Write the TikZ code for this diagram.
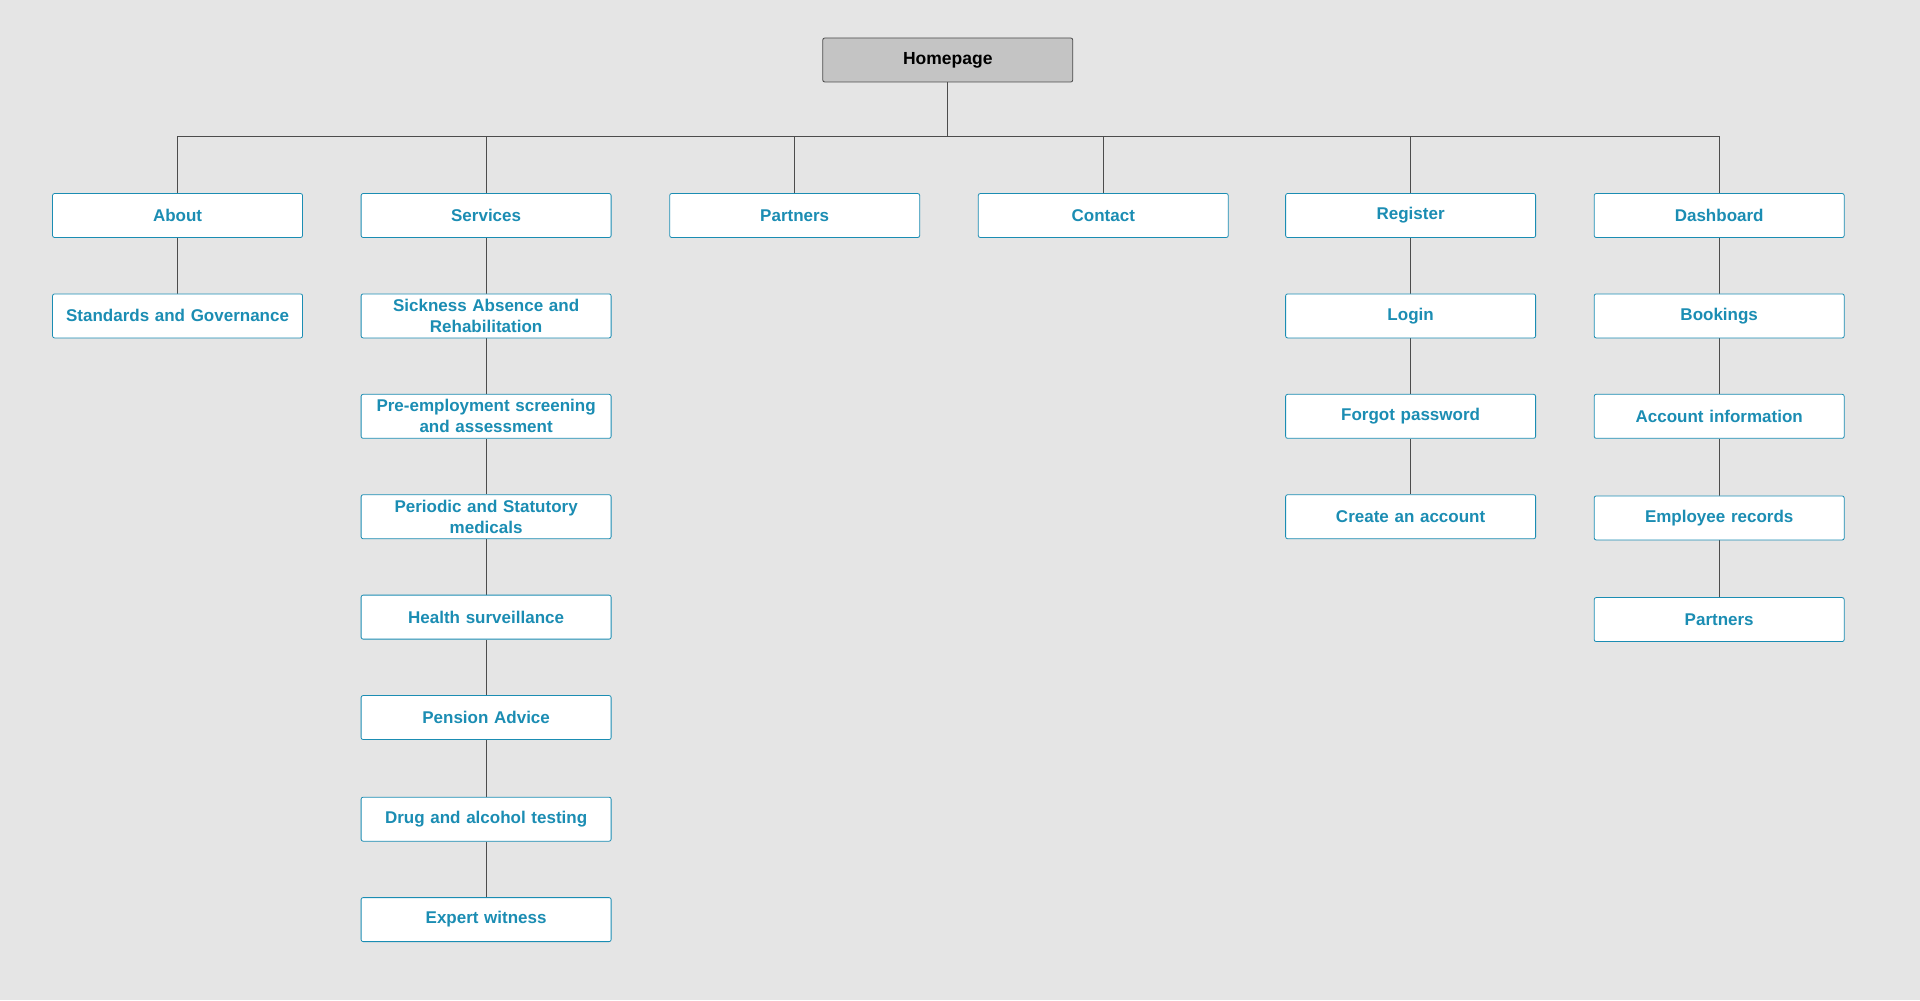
\documentclass[tikz,border=0pt]{standalone}
\usepackage{fontspec}
\setmainfont{Liberation Sans}
\usetikzlibrary{backgrounds}
\begin{document}
\definecolor{bg}{HTML}{E5E5E5}
\definecolor{teal}{HTML}{1B8DB3}
\begin{tikzpicture}[x=1.2245pt,y=-1.2245pt,
  box/.style={draw=teal,fill=white,rounded corners=2pt,minimum width=250pt,minimum height=44pt,text width=240pt,align=center,font=\bfseries\fontsize{17}{21}\selectfont,text=teal,inner sep=1pt,line width=0.8pt},
  top/.style={draw=black!70,fill=black!23,rounded corners=2pt,minimum width=250pt,minimum height=44pt,font=\bfseries\fontsize{17.5}{21}\selectfont,text=black,line width=0.8pt},
  ln/.style={draw=black!70,line width=0.7pt}]
\node[top] (home) at (774,49) {Homepage};
\node[box] (about) at (145,176) {About};
\node[box] (serv) at (397,176) {Services};
\node[box] (part) at (649,176) {Partners};
\node[box] (cont) at (901,176) {Contact};
\node[box] (reg) at (1152,176) {Register};
\node[box] (dash) at (1404,176) {Dashboard};
\node[box] (std) at (145,258) {Standards and Governance};
\node[box] (s1) at (397,258) {Sickness Absence and\\Rehabilitation};
\node[box] (s2) at (397,340) {Pre-employment screening\\and assessment};
\node[box] (s3) at (397,422) {Periodic and Statutory\\medicals};
\node[box] (s4) at (397,504) {Health surveillance};
\node[box] (s5) at (397,586) {Pension Advice};
\node[box] (s6) at (397,669) {Drug and alcohol testing};
\node[box] (s7) at (397,751) {Expert witness};
\node[box] (r1) at (1152,258) {Login};
\node[box] (r2) at (1152,340) {Forgot password};
\node[box] (r3) at (1152,422) {Create an account};
\node[box] (d1) at (1404,258) {Bookings};
\node[box] (d2) at (1404,340) {Account information};
\node[box] (d3) at (1404,423) {Employee records};
\node[box] (d4) at (1404,506) {Partners};
\coordinate (bus) at (774,111);
\begin{scope}[on background layer]
\fill[bg] (0,0) rectangle (1568,817);
\draw[ln] (home.south) -- (bus);
\foreach \n in {about,serv,part,cont,reg,dash}
  \draw[ln] (bus) -| (\n.north);
\draw[ln] (about) -- (std);
\draw[ln] (serv) -- (s1) -- (s2) -- (s3) -- (s4) -- (s5) -- (s6) -- (s7);
\draw[ln] (reg) -- (r1) -- (r2) -- (r3);
\draw[ln] (dash) -- (d1) -- (d2) -- (d3) -- (d4);
\end{scope}
\useasboundingbox (0,0) rectangle (1568,817);
\end{tikzpicture}
\end{document}
